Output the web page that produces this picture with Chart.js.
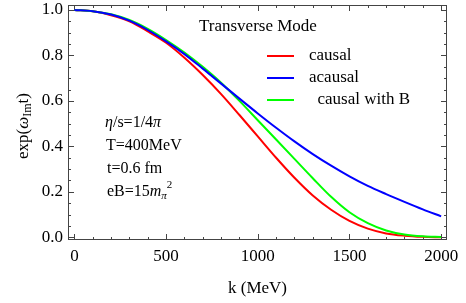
<!DOCTYPE html>
<html>
<head>
<meta charset="utf-8">
<script src="https://cdn.jsdelivr.net/npm/chart.js@4.4.1/dist/chart.umd.min.js"></script>
<style>
  html, body { margin: 0; padding: 0; background: #fff; }
</style>
</head>
<body>
<canvas id="modeChart" width="466" height="303"></canvas>
<script>
// k in MeV
const kValues = [0, 100, 200, 300, 400, 500, 600, 700, 800, 900, 1000,
  1100, 1200, 1300, 1400, 1500, 1600, 1700, 1800, 1900, 2000];
const causal = [1.000, 0.994, 0.977, 0.950, 0.906, 0.856, 0.790, 0.714, 0.630, 0.538, 0.444,
  0.350, 0.262, 0.184, 0.121, 0.072, 0.038, 0.017, 0.007, 0.002, 0.000];
const acausal = [1.000, 0.995, 0.980, 0.953, 0.912, 0.862, 0.806, 0.742, 0.676, 0.610, 0.545,
  0.482, 0.422, 0.366, 0.315, 0.268, 0.226, 0.190, 0.156, 0.123, 0.092];
const causalB = [1.000, 0.995, 0.981, 0.956, 0.917, 0.868, 0.813, 0.750, 0.680, 0.600, 0.515,
  0.430, 0.345, 0.260, 0.178, 0.110, 0.062, 0.030, 0.012, 0.004, 0.001];

const xTicks = [0, 500, 1000, 1500, 2000];
const yTicks = [0.0, 0.2, 0.4, 0.6, 0.8, 1.0];

const SERIF = "'Liberation Serif', 'DejaVu Serif', serif";

function pts(arr) {
  return kValues.map((k, i) => ({ x: k, y: arr[i] }));
}

function richText(ctx, x, y, parts) {
  let cx = x;
  parts.forEach(p => {
    ctx.font = p.f;
    ctx.fillText(p.t, cx, y + (p.dy || 0));
    cx += ctx.measureText(p.t).width;
  });
  return cx - x;
}

function richWidth(ctx, parts) {
  let w = 0;
  parts.forEach(p => { ctx.font = p.f; w += ctx.measureText(p.t).width; });
  return w;
}

// inward ticks on all four sides + frame
const frameTicks = {
  id: "frameTicks",
  beforeDatasetsDraw(chart) {
    const ctx = chart.ctx;
    const a = chart.chartArea;
    const xs = chart.scales.x, ys = chart.scales.y;
    ctx.save();
    ctx.strokeStyle = "#444";
    ctx.lineWidth = 1;
    ctx.strokeRect(a.left + 0.5, a.top + 0.5, a.right - a.left - 1, a.bottom - a.top - 1);
    ctx.beginPath();
    for (let v = 0; v <= 2000; v += 100) {
      const len = v % 500 === 0 ? 6 : 3;
      const px = Math.round(xs.getPixelForValue(v)) + 0.5;
      ctx.moveTo(px, a.bottom); ctx.lineTo(px, a.bottom - len);
      ctx.moveTo(px, a.top); ctx.lineTo(px, a.top + len);
    }
    for (let i = 0; i <= 20; i++) {
      const v = i * 0.05;
      const len = i % 4 === 0 ? 6 : 3;
      const py = Math.round(ys.getPixelForValue(v)) + 0.5;
      ctx.moveTo(a.left, py); ctx.lineTo(a.left + len, py);
      ctx.moveTo(a.right, py); ctx.lineTo(a.right - len, py);
    }
    ctx.stroke();
    ctx.restore();
  },
  afterDraw(chart) {
    const ctx = chart.ctx;
    const a = chart.chartArea;
    ctx.save();
    ctx.fillStyle = "#000";
    ctx.textBaseline = "middle";

    // axis titles
    ctx.font = "17px " + SERIF;
    ctx.textAlign = "center";
    ctx.fillText("k (MeV)", (a.left + a.right) / 2, 289);
    ctx.textAlign = "left";

    const yTitle = [
      { t: "exp(", f: "17px " + SERIF },
      { t: "ω", f: "italic 17px " + SERIF },
      { t: "Im", f: "12px " + SERIF, dy: 4 },
      { t: "t)", f: "17px " + SERIF }
    ];
    ctx.save();
    ctx.translate(24, 126);
    ctx.rotate(-Math.PI / 2);
    richText(ctx, -richWidth(ctx, yTitle) / 2, 0, yTitle);
    ctx.restore();

    // legend block
    ctx.font = "17px " + SERIF;
    ctx.fillText("Transverse Mode", 199, 27);
    const rows = [56, 78, 100];
    const names = ["causal", "acausal", "  causal with B"];
    chart.data.datasets.forEach((ds, i) => {
      ctx.strokeStyle = ds.borderColor;
      ctx.lineWidth = 2;
      ctx.beginPath();
      ctx.moveTo(267, rows[i]); ctx.lineTo(294, rows[i]);
      ctx.stroke();
      ctx.font = "17px " + SERIF;
      ctx.fillText(names[i], 309, rows[i]);
    });

    // parameter block
    const f = "16px " + SERIF, fi = "italic 16px " + SERIF;
    richText(ctx, 105, 123, [
      { t: "η", f: fi }, { t: "/s=1/4", f: f }, { t: "π", f: fi }
    ]);
    richText(ctx, 106, 146, [{ t: "T=400MeV", f: f }]);
    richText(ctx, 107, 169, [{ t: "t=0.6 fm", f: f }]);
    richText(ctx, 107, 192, [
      { t: "eB=15", f: f }, { t: "m", f: fi },
      { t: "π", f: "italic 11px " + SERIF, dy: 4 },
      { t: "2", f: "11px " + SERIF, dy: -7 }
    ]);
    ctx.restore();
  }
};

const chart = new Chart(document.getElementById("modeChart").getContext("2d"), {
  type: "line",
  data: {
    datasets: [
      { label: "causal", data: pts(causal), borderColor: "#ff0000", order: 3 },
      { label: "acausal", data: pts(acausal), borderColor: "#0000ff", order: 1 },
      { label: "causal with B", data: pts(causalB), borderColor: "#00ff00", order: 2 }
    ]
  },
  options: {
    responsive: false,
    animation: false,
    devicePixelRatio: 1,
    layout: { padding: { left: 0, right: 19, top: 5, bottom: 0 } },
    elements: {
      line: { borderWidth: 2, fill: false, cubicInterpolationMode: "monotone" },
      point: { radius: 0 }
    },
    plugins: {
      legend: { display: false },
      tooltip: { enabled: false }
    },
    scales: {
      x: {
        type: "linear",
        min: -35,
        max: 2032,
        afterBuildTicks: s => { s.ticks = xTicks.map(v => ({ value: v })); },
        afterFit: s => { s.height = 63; s.paddingLeft = 0; s.paddingRight = 0; },
        grid: { display: false, drawTicks: false },
        border: { display: false },
        ticks: {
          color: "#000",
          padding: 6,
          maxRotation: 0,
          autoSkip: false,
          font: { family: SERIF, size: 17 },
          callback: v => String(v)
        }
      },
      y: {
        type: "linear",
        min: -0.012,
        max: 1.022,
        afterBuildTicks: s => { s.ticks = yTicks.map(v => ({ value: v })); },
        afterFit: s => { s.width = 68; s.paddingTop = 0; s.paddingBottom = 0; },
        grid: { display: false, drawTicks: false },
        border: { display: false },
        ticks: {
          color: "#000",
          padding: 5,
          font: { family: SERIF, size: 17 },
          callback: v => v.toFixed(1)
        }
      }
    }
  },
  plugins: [frameTicks]
});
</script>
</body>
</html>
